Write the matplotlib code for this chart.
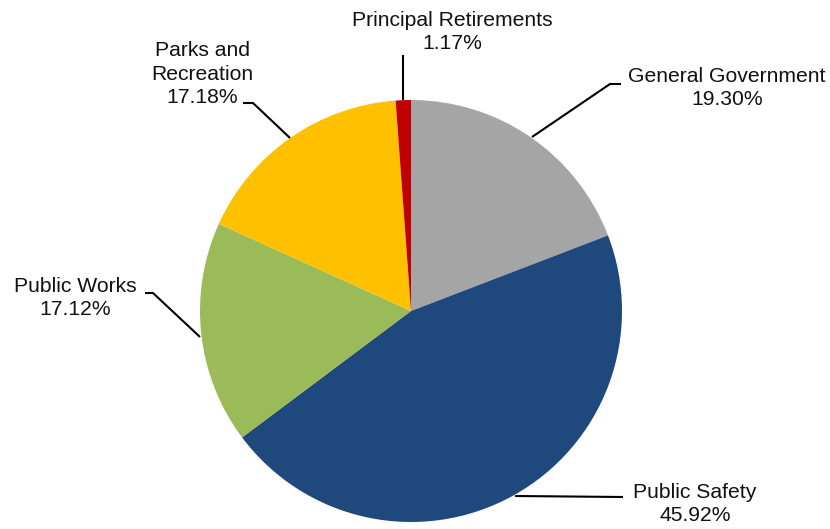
import matplotlib
matplotlib.use("Agg")
import matplotlib.pyplot as plt

categories = ["General Government", "Public Safety", "Public Works",
              "Parks and\nRecreation", "Principal Retirements"]
values = [19.30, 45.92, 17.12, 17.18, 1.17]
colors = ["#A5A5A5", "#1F497D", "#9BBB59", "#FFC000", "#C00000"]

W, H = 830, 529
fig = plt.figure(figsize=(W / 100, H / 100), dpi=100)
ax = fig.add_axes([0, 0, 1, 1])

plt.rcParams["font.family"] = ["Liberation Sans", "DejaVu Sans"]

cx, cy, r = 411, H - 311, 211
ax.pie(values, colors=colors, startangle=90, counterclock=False,
       center=(cx, cy), radius=r, frame=True,
       wedgeprops=dict(linewidth=0))
ax.set_xlim(0, W)
ax.set_ylim(0, H)
ax.set_aspect("equal")
ax.axis("off")

def Y(y):
    return H - y

# label text positions (pixel coords, y from top) and leader lines
label_pos = [(727, 88), (695, 504), (75, 298), (202, 74), (452, 32)]
leaders = [
    [(532, 137), (610, 84), (621, 84)],
    [(515, 496), (623, 497)],
    [(200, 337), (153, 293), (145, 293)],
    [(290, 138), (253, 103), (243, 103)],
    [(403, 100), (403, 55)],
]

for cat, v, (tx, ty), pts in zip(categories, values, label_pos, leaders):
    ax.text(tx, Y(ty), f"{cat}\n{v:.2f}%", ha="center", va="center",
            multialignment="center", fontsize=15.2, color="#111111",
            linespacing=1.3, family=["Liberation Sans", "DejaVu Sans"])
    xs = [p[0] for p in pts]
    ys = [Y(p[1]) for p in pts]
    ax.plot(xs, ys, color="black", lw=1.5, solid_capstyle="butt")

fig.savefig("out.png", dpi=100)
